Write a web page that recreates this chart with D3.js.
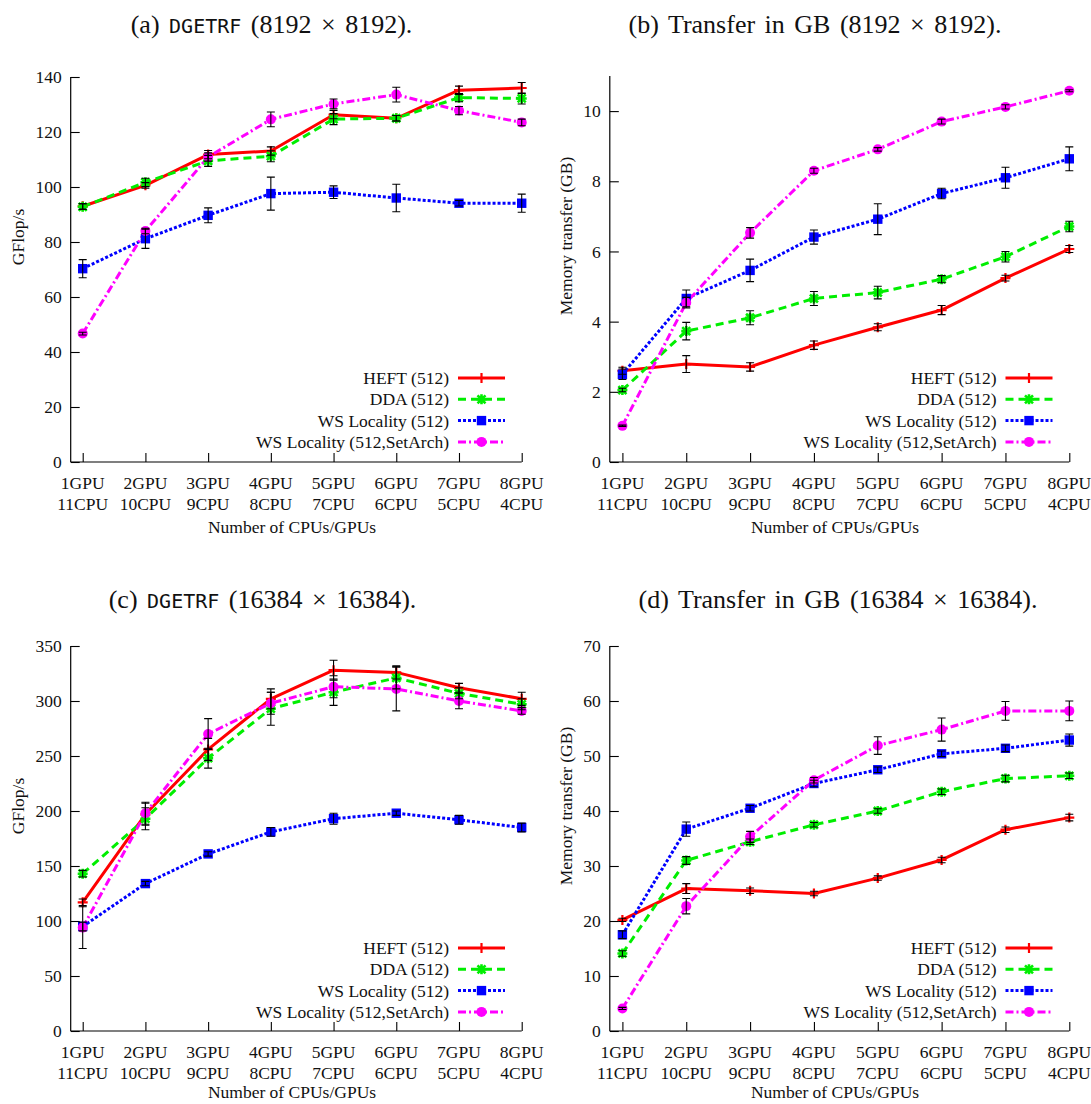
<!DOCTYPE html>
<html><head><meta charset="utf-8">
<script src="https://cdn.jsdelivr.net/npm/d3@7"></script>
<style>
body{margin:0;background:#fff;}
svg{display:block;}
text{font-family:"Liberation Serif","Times New Roman",serif;fill:#111;}
</style></head>
<body>
<svg id="chart" width="1091" height="1104"></svg>
<script>
// ---------------- DATA ----------------
const gpuLabels = ["1GPU","2GPU","3GPU","4GPU","5GPU","6GPU","7GPU","8GPU"];
const cpuLabels = ["11CPU","10CPU","9CPU","8CPU","7CPU","6CPU","5CPU","4CPU"];
const seriesNames = ["HEFT (512)","DDA (512)","WS Locality (512)","WS Locality (512,SetArch)"];

// (a) DGETRF 8192 - GFlop/s
const aHeft     = [93.0,100.6,111.8,113.1,126.3,125.0,135.2,136.0];
const aHeftErr  = [1.0,1.0,1.5,1.5,1.5,1.0,1.5,2.0];
const aDda      = [92.8,101.7,109.5,111.2,124.7,125.0,132.5,132.2];
const aDdaErr   = [1.0,1.5,2.0,2.0,2.0,1.0,1.5,2.0];
const aWs       = [70.3,81.2,89.7,97.6,98.1,96.0,94.1,94.1];
const aWsErr    = [3.3,3.5,2.7,6.0,2.3,5.0,1.0,3.3];
const aSet      = [46.7,84.0,110.9,124.6,130.2,133.6,127.8,123.5];
const aSetErr   = [0.5,1.0,1.5,2.7,1.8,2.7,1.5,1.2];

// (b) Transfer 8192 - GB
const bHeft     = [2.60,2.79,2.71,3.33,3.84,4.33,5.24,6.07];
const bHeftErr  = [0.10,0.24,0.12,0.12,0.10,0.13,0.08,0.10];
const bDda      = [2.05,3.73,4.11,4.66,4.83,5.21,5.85,6.71];
const bDdaErr   = [0.05,0.25,0.20,0.20,0.18,0.10,0.15,0.15];
const bWs       = [2.50,4.66,5.46,6.41,6.92,7.65,8.10,8.64];
const bWsErr    = [0.15,0.24,0.32,0.20,0.44,0.15,0.30,0.34];
const bSet      = [1.03,4.54,6.53,8.30,8.91,9.70,10.12,10.58];
const bSetErr   = [0.02,0.15,0.15,0.07,0.05,0.07,0.06,0.03];

// (c) DGETRF 16384 - GFlop/s
const cHeft     = [117,197,256,302,328,326,312,302];
const cHeftErr  = [3,10,10,9,9,6,4,6];
const cDda      = [143,193,248,293,308,321,307,297];
const cDdaErr   = [3,10,9,15,12,10,5,5];
const cWs       = [95,134,161,181,193,198,192,185];
const cWsErr    = [4,2,2,4,5,2,4,4];
const cSet      = [94,198,270,298,313,311,300,291];
const cSetErr   = [19,10,14,10,10,20,7,3];

// (d) Transfer 16384 - GB
const dHeft     = [20.2,25.9,25.5,25.0,27.8,31.1,36.6,38.8];
const dHeftErr  = [0.3,0.9,0.5,0.4,0.4,0.5,0.5,0.6];
const dDda      = [14.1,31.0,34.4,37.5,40.0,43.5,45.9,46.4];
const dDdaErr   = [0.5,0.7,0.5,0.4,0.4,0.5,0.6,0.5];
const dWs       = [17.5,36.7,40.5,45.0,47.5,50.4,51.4,52.9];
const dWsErr    = [0.7,1.3,0.5,0.6,0.5,0.5,0.6,1.1];
const dSet      = [4.1,22.7,35.3,45.6,51.9,54.8,58.2,58.2];
const dSetErr   = [0.2,1.4,1.0,0.5,1.6,2.1,1.7,1.8];

const aTicks = [0,20,40,60,80,100,120,140];
const bTicks = [0,2,4,6,8,10];
const cTicks = [0,50,100,150,200,250,300,350];
const dTicks = [0,10,20,30,40,50,60,70];

// ---------------- STYLE ----------------
const styles = [
  {color:"#ff0000", dash:null,        width:3,   marker:"plus"},
  {color:"#00ee00", dash:"8,5",       width:3,   marker:"star"},
  {color:"#0000ff", dash:"3,2",       width:3,   marker:"square"},
  {color:"#ff00ff", dash:"8,3,2,3",   width:3,   marker:"circle"}
];

const svg = d3.select("#chart");

function drawMarker(g, type, x, y, color){
  if(type==="plus"){
    g.append("path").attr("d",`M${x-5},${y}H${x+5}M${x},${y-5}V${y+5}`)
      .attr("stroke",color).attr("stroke-width",2.2).attr("fill","none");
  } else if(type==="star"){
    g.append("path").attr("d",`M${x-5},${y}H${x+5}M${x},${y-5}V${y+5}M${x-4},${y-4}L${x+4},${y+4}M${x-4},${y+4}L${x+4},${y-4}`)
      .attr("stroke",color).attr("stroke-width",2.6).attr("fill","none");
  } else if(type==="square"){
    g.append("rect").attr("x",x-4.7).attr("y",y-4.7).attr("width",9.4).attr("height",9.4).attr("fill",color);
  } else {
    g.append("circle").attr("cx",x).attr("cy",y).attr("r",5).attr("fill",color);
  }
}

function panel(cfg){
  const g = svg.append("g");
  const x = d3.scaleLinear().domain([1,8]).range([cfg.x1,cfg.x8]);
  const y = d3.scaleLinear().domain([0,cfg.ymax]).range([cfg.bottom,cfg.top]);

  // title
  const t = g.append("text").attr("x",cfg.titleX).attr("y",cfg.titleY)
    .attr("text-anchor","middle").style("font-size","26px").style("word-spacing","3px");
  cfg.title.forEach(p=>{
    const ts=t.append("tspan").text(p.t);
    if(p.mono) ts.style("font-family","'DejaVu Sans Mono','Liberation Mono',monospace").style("font-size","20px");
  });

  // y axis
  const yAxis = d3.axisLeft(y).tickValues(cfg.ticks).tickSize(-9).tickPadding(9).tickFormat(d3.format("d"));
  const ya = g.append("g").attr("transform",`translate(${cfg.left},0)`).call(yAxis);
  ya.select(".domain").attr("d",`M0,${cfg.bottom}V${cfg.top}`).attr("stroke","#000").attr("stroke-width",1.2);
  ya.selectAll(".tick line").attr("stroke","#000").attr("stroke-width",1.1);
  ya.selectAll(".tick text").style("font-size","17.5px").style("font-family","'Liberation Serif',serif").attr("fill","#111");

  // x axis
  const xAxis = d3.axisBottom(x).tickValues(d3.range(1,9)).tickSize(-9).tickFormat("");
  const xa = g.append("g").attr("transform",`translate(0,${cfg.bottom})`).call(xAxis);
  xa.select(".domain").attr("d",`M${cfg.left},0H${cfg.x8}`).attr("stroke","#000").attr("stroke-width",1.2);
  xa.selectAll(".tick line").attr("stroke","#000").attr("stroke-width",1.1);
  gpuLabels.forEach((lab,i)=>{
    g.append("text").attr("x",x(i+1)).attr("y",cfg.bottom+27).attr("text-anchor","middle").style("font-size","17.5px").text(lab);
    g.append("text").attr("x",x(i+1)).attr("y",cfg.bottom+48).attr("text-anchor","middle").style("font-size","17.5px").text(cpuLabels[i]);
  });
  g.append("text").attr("x",cfg.xlabelX).attr("y",cfg.bottom+cfg.xlabelDy).attr("text-anchor","middle").style("font-size","17.5px").text("Number of CPUs/GPUs");
  g.append("text").attr("transform",`translate(${cfg.ylabelX},${cfg.top+160}) rotate(-90)`)
    .attr("text-anchor","middle").style("font-size","17.5px").text(cfg.ylabel);

  // series
  const line = d3.line().x((d,i)=>x(i+1)).y(d=>y(d));
  cfg.series.forEach((s,k)=>{
    const st=styles[k];
    g.append("path").datum(s.v).attr("d",line).attr("fill","none")
      .attr("stroke",st.color).attr("stroke-width",st.width)
      .attr("stroke-dasharray",st.dash).attr("stroke-linejoin","round");
  });
  cfg.series.forEach((s,k)=>{
    const st=styles[k];
    s.v.forEach((v,i)=>drawMarker(g,st.marker,x(i+1),y(v),st.color));
  });
  cfg.series.forEach((s,k)=>{
    s.v.forEach((v,i)=>{
      const cx=x(i+1), y1=y(v-s.e[i]), y2=y(v+s.e[i]);
      g.append("path").attr("d",`M${cx},${y1}V${y2}M${cx-4},${y1}H${cx+4}M${cx-4},${y2}H${cx+4}`)
        .attr("stroke","#000").attr("stroke-width",1.1).attr("fill","none");
    });
  });

  // legend
  seriesNames.forEach((n,k)=>{
    const ly = cfg.legY + k*21.3;
    const st=styles[k];
    g.append("text").attr("x",cfg.legX).attr("y",ly+6).attr("text-anchor","end").style("font-size","17.5px").text(n);
    g.append("line").attr("x1",cfg.legX+9).attr("x2",cfg.legX+56).attr("y1",ly).attr("y2",ly)
      .attr("stroke",st.color).attr("stroke-width",st.width).attr("stroke-dasharray",st.dash);
    drawMarker(g,st.marker,cfg.legX+32.5,ly,st.color);
  });
}

panel({left:70.7,x1:82.7,x8:521.7,top:77,bottom:462,ymax:140,ticks:aTicks,ylabel:"GFlop/s",ylabelX:24,xlabelX:292,xlabelDy:71,
  titleX:271.5,titleY:33,title:[{t:"(a) "},{t:"DGETRF",mono:true},{t:" (8192 × 8192)."}],
  legX:449,legY:378,
  series:[{v:aHeft,e:aHeftErr},{v:aDda,e:aDdaErr},{v:aWs,e:aWsErr},{v:aSet,e:aSetErr}]});
panel({left:609.8,x1:622.4,x8:1069.3,top:76,bottom:462,ymax:11,ticks:bTicks,ylabel:"Memory transfer (GB)",ylabelX:572,xlabelX:835,xlabelDy:71,
  titleX:815,titleY:33,title:[{t:"(b) Transfer in GB (8192 × 8192)."}],
  legX:996.5,legY:378,
  series:[{v:bHeft,e:bHeftErr},{v:bDda,e:bDdaErr},{v:bWs,e:bWsErr},{v:bSet,e:bSetErr}]});
panel({left:70.7,x1:82.7,x8:521.7,top:646,bottom:1031,ymax:350,ticks:cTicks,ylabel:"GFlop/s",ylabelX:24,xlabelX:292,xlabelDy:67,
  titleX:262.5,titleY:608,title:[{t:"(c) "},{t:"DGETRF",mono:true},{t:" (16384 × 16384)."}],
  legX:449,legY:948,
  series:[{v:cHeft,e:cHeftErr},{v:cDda,e:cDdaErr},{v:cWs,e:cWsErr},{v:cSet,e:cSetErr}]});
panel({left:609.8,x1:622.4,x8:1069.3,top:646,bottom:1031,ymax:70,ticks:dTicks,ylabel:"Memory transfer (GB)",ylabelX:572,xlabelX:835,xlabelDy:67,
  titleX:838,titleY:608,title:[{t:"(d) Transfer in GB (16384 × 16384)."}],
  legX:996.5,legY:948,
  series:[{v:dHeft,e:dHeftErr},{v:dDda,e:dDdaErr},{v:dWs,e:dWsErr},{v:dSet,e:dSetErr}]});
</script>
</body></html>
